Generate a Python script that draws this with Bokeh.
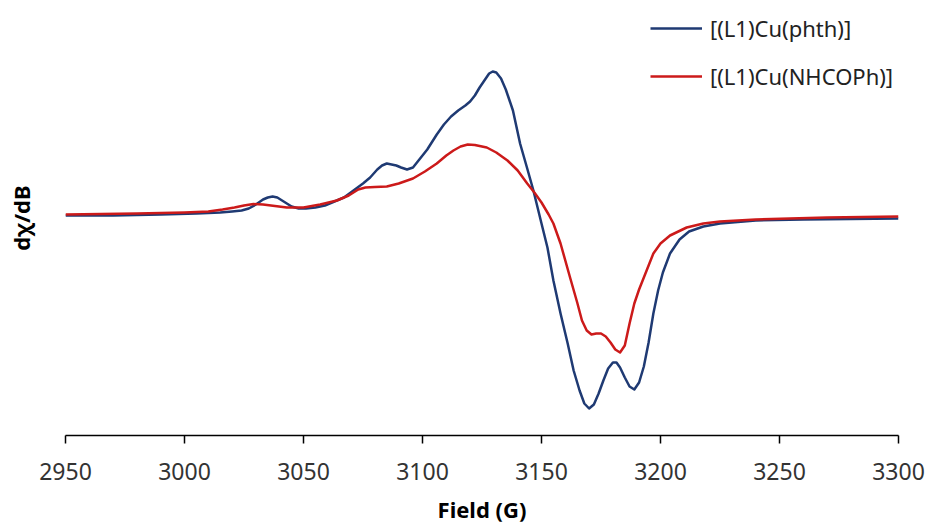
from bokeh.plotting import figure
from bokeh.models import Range1d, FixedTicker, Legend, LegendItem
from bokeh.embed import file_html
from bokeh.resources import INLINE

# Field (G) and derivative signal (arbitrary units) for each complex
field_phth = [2950, 2970, 2990, 3005, 3015, 3020, 3024, 3027, 3030, 3033, 3035, 3037,
              3039, 3041, 3043, 3045, 3048, 3051, 3055, 3059, 3063, 3067, 3071, 3075,
              3078, 3081, 3083, 3085, 3087, 3089, 3091, 3093.5, 3096, 3099, 3102, 3106,
              3109, 3112, 3115, 3118, 3120, 3122, 3124, 3126, 3128, 3129.5, 3131, 3133,
              3135, 3138, 3141, 3144, 3146.6, 3150, 3152.5, 3155, 3158, 3161, 3163.5, 3166,
              3168, 3170, 3172, 3174, 3176, 3178, 3180, 3181.5, 3183, 3185, 3187, 3189,
              3191, 3193, 3195, 3197, 3199, 3201, 3204, 3208, 3212, 3218, 3225, 3240,
              3260, 3280, 3300]
signal_phth = [0, 0, 1, 2, 3, 4, 5, 7, 11, 16, 18, 19,
               18, 15, 12, 9, 7, 7, 8, 10, 14, 18, 25, 32,
               38, 46, 50, 52, 51, 50, 48, 46, 48, 57, 66, 81,
               91, 99, 105, 110, 114, 120, 128, 135, 142, 144, 143, 137,
               126, 105, 72, 47, 25, -8, -32, -65, -98, -128, -155, -175,
               -188, -193, -189, -178, -165, -153, -147, -147, -152, -162, -171, -174,
               -167, -151, -127, -98, -75, -57, -38, -24, -16, -11, -8, -5,
               -4, -3.5, -3]

field_nhcoph = [2950, 2980, 3000, 3010, 3016, 3021, 3025, 3029, 3033, 3038, 3043, 3050,
                3057, 3064, 3069, 3073, 3076, 3080, 3085, 3090, 3096, 3101, 3106, 3110,
                3113, 3116, 3119, 3122, 3127, 3131, 3135.7, 3140, 3144, 3147, 3150, 3153,
                3155, 3158, 3162, 3165, 3167, 3169, 3171, 3173, 3175, 3177, 3179, 3181,
                3183, 3185, 3187, 3189, 3191, 3193, 3195, 3197, 3200, 3204, 3211, 3218,
                3225, 3240, 3270, 3300]
signal_nhcoph = [1, 2, 3, 4, 6, 8, 10, 11.5, 11, 9.5, 8, 8,
                 11, 15, 20, 26, 28, 28.5, 29, 32, 37, 44, 52, 60,
                 65, 69, 71, 70.5, 68, 63, 55, 45, 32, 23, 13, 1,
                 -8, -28, -62, -87, -105, -115, -119, -118, -118, -121, -127, -134,
                 -137, -130, -108, -88, -74, -62, -50, -38, -28, -20, -12, -8,
                 -6, -4, -2, -1]

series_labels = ["[(L1)Cu(phth)]", "[(L1)Cu(NHCOPh)]"]
x_ticks = [2950, 3000, 3050, 3100, 3150, 3200, 3250, 3300]

FONT = "Noto Sans"

p = figure(width=930, height=527, output_backend="svg", toolbar_location=None,
           x_range=Range1d(2950, 3300), y_range=Range1d(-220, 215),
           min_border_left=65, min_border_right=32, min_border_top=0, min_border_bottom=92)
p.outline_line_color = None
p.xgrid.visible = False
p.ygrid.visible = False
p.background_fill_color = "white"

r1 = p.line(field_phth, signal_phth, line_color="#1F3A73", line_width=2.5, line_join="round")
r2 = p.line(field_nhcoph, signal_nhcoph, line_color="#CC1A1A", line_width=2.5, line_join="round")

xa = p.xaxis[0]
xa.ticker = FixedTicker(ticks=x_ticks)
xa.minor_tick_line_color = None
xa.major_tick_out = 8
xa.major_tick_in = 0
xa.axis_line_width = 1.5
xa.major_tick_line_width = 1.5
xa.axis_line_color = "#000000"
xa.major_tick_line_color = "#000000"
xa.major_label_text_font = FONT
xa.major_label_text_font_size = "23px"
xa.major_label_text_color = "#333333"
xa.major_label_standoff = 19
xa.axis_label = "Field (G)"
xa.axis_label_text_font = FONT
xa.axis_label_text_font_size = "22px"
xa.axis_label_text_font_style = "bold"
xa.axis_label_text_color = "#000000"
xa.axis_label_standoff = 11

ya = p.yaxis[0]
ya.ticker = FixedTicker(ticks=[])
ya.axis_line_color = None
ya.major_tick_line_color = None
ya.minor_tick_line_color = None
ya.major_tick_out = 0
ya.major_label_standoff = 0
ya.axis_label = "dχ/dB"
ya.axis_label_text_font = FONT
ya.axis_label_text_font_size = "22px"
ya.axis_label_text_font_style = "bold"
ya.axis_label_text_color = "#000000"
ya.axis_label_standoff = 30

legend = Legend(items=[LegendItem(label=series_labels[0], renderers=[r1]),
                       LegendItem(label=series_labels[1], renderers=[r2])],
                location=(585, 344))
legend.label_text_font = FONT
legend.label_text_font_size = "22px"
legend.label_text_color = "#222222"
legend.glyph_width = 52
legend.label_standoff = 8
legend.spacing = 18
legend.padding = 0
legend.margin = 0
legend.border_line_color = None
legend.background_fill_alpha = 0
p.add_layout(legend)

open("out.html", "w").write(file_html(p, INLINE))
